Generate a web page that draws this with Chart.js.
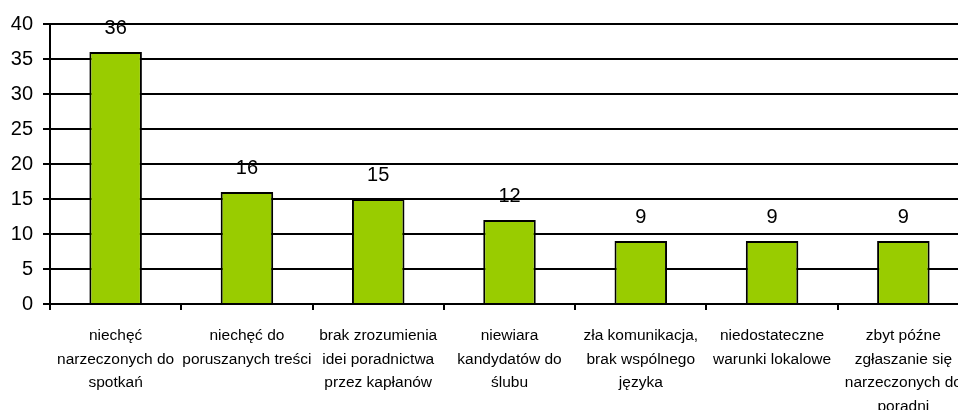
<!DOCTYPE html>
<html>
<head>
<meta charset="utf-8">
<script src="https://cdn.jsdelivr.net/npm/chart.js@4/dist/chart.umd.min.js"></script>
<style>
  html, body { margin: 0; padding: 0; background: #fff; overflow: hidden; }
  #wrap { width: 958px; height: 410px; overflow: hidden; position: relative; }
  #box { width: 972px; height: 410px; position: absolute; left: 0; top: 0; }
</style>
</head>
<body>
<div id="wrap"><div id="box"><canvas id="c"></canvas></div></div>
<script>
const categories = [
  ["niechęć", "narzeczonych do", "spotkań"],
  ["niechęć do", "poruszanych treści"],
  ["brak zrozumienia", "idei poradnictwa", "przez kapłanów"],
  ["niewiara", "kandydatów do", "ślubu"],
  ["zła komunikacja,", "brak wspólnego", "języka"],
  ["niedostateczne", "warunki lokalowe"],
  ["zbyt późne", "zgłaszanie się", "narzeczonych do", "poradni"]
];
const values = [36, 16, 15, 12, 9, 9, 9];
const yTicks = [0, 5, 10, 15, 20, 25, 30, 35, 40];

const FONT = "'Liberation Sans', Arial, sans-serif";

// writes each bar's value above it
const valueLabels = {
  id: 'valueLabels',
  afterDatasetsDraw(chart) {
    const ctx = chart.ctx;
    const meta = chart.getDatasetMeta(0);
    ctx.save();
    ctx.fillStyle = '#000';
    ctx.font = '20px ' + FONT;
    ctx.textAlign = 'center';
    ctx.textBaseline = 'alphabetic';
    meta.data.forEach((bar, i) => {
      ctx.fillText(String(values[i]), bar.x, bar.y - 18);
    });
    ctx.restore();
  }
};

new Chart(document.getElementById('c'), {
  type: 'bar',
  data: {
    labels: categories,
    datasets: [{
      data: values,
      backgroundColor: '#99CC00',
      borderColor: '#000',
      borderWidth: 2,
      barPercentage: 0.4,
      categoryPercentage: 1.0
    }]
  },
  options: {
    responsive: true,
    maintainAspectRatio: false,
    animation: false,
    layout: { padding: { top: 24, right: 3, left: 0, bottom: 0 } },
    plugins: { legend: { display: false }, tooltip: { enabled: false } },
    scales: {
      x: {
        grid: {
          drawOnChartArea: false,
          drawTicks: true,
          tickLength: 6,
          color: '#000',
          lineWidth: 2
        },
        border: { color: '#000', width: 2 },
        ticks: {
          color: '#000',
          font: { family: FONT, size: 15.5, lineHeight: 1.52 },
          maxRotation: 0,
          minRotation: 0,
          autoSkip: false,
          padding: 14
        },
        afterFit(scale) {
          scale.height = 106;
          // let the last label run past the edge instead of shrinking the plot
          scale.paddingLeft = 0;
          scale.paddingRight = 0;
        }
      },
      y: {
        min: 0,
        max: 40,
        afterBuildTicks(scale) { scale.ticks = yTicks.map(v => ({ value: v })); },
        grid: {
          color: '#000',
          lineWidth: 2,
          tickLength: 7,
          drawTicks: true
        },
        border: { color: '#000', width: 2 },
        ticks: {
          color: '#000',
          font: { family: FONT, size: 20 },
          padding: 10
        },
        afterFit(scale) { scale.width = 50; }
      }
    }
  },
  plugins: [valueLabels]
});
</script>
</body>
</html>
